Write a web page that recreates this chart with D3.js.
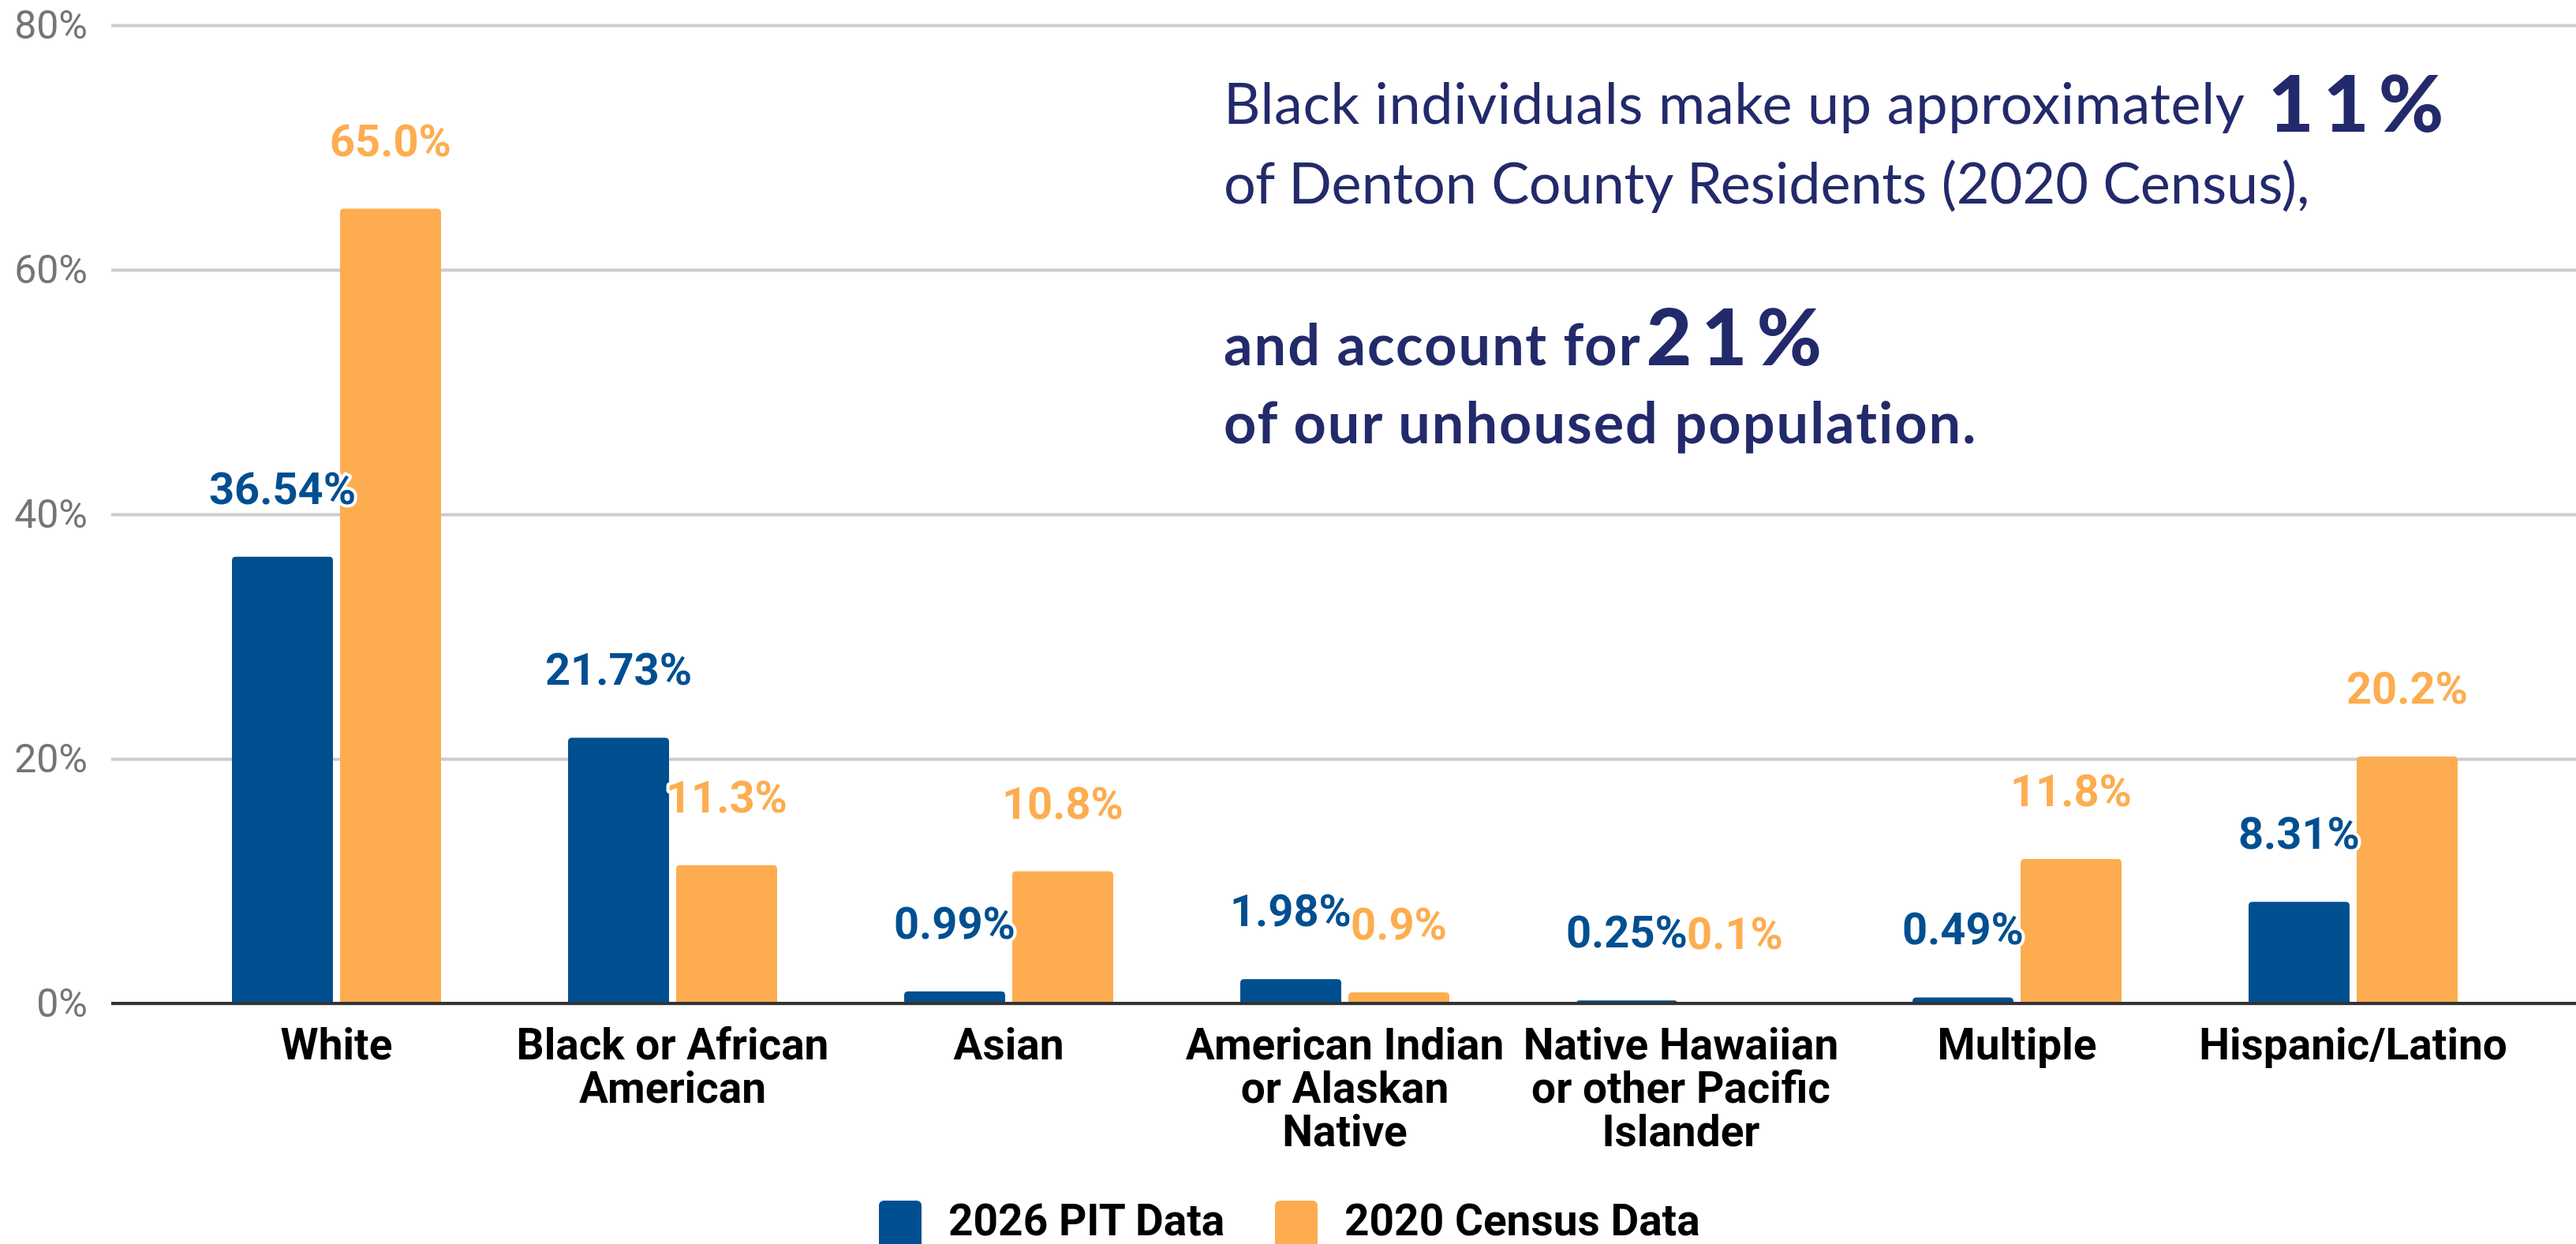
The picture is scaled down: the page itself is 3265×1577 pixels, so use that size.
<!DOCTYPE html>
<html>
<head>
<meta charset="utf-8">
<script src="https://cdn.jsdelivr.net/npm/d3@7"></script>
<style>
  body { margin: 0; background: #fff; }
  svg { display: block; }
</style>
</head>
<body>
<script>
// Chart data
const categories = [
  'White',
  'Black or African American',
  'Asian',
  'American Indian or Alaskan Native',
  'Native Hawaiian or other Pacific Islander',
  'Multiple',
  'Hispanic/Latino',
];
const categoryLines = [
  ['White'],
  ['Black or African', 'American'],
  ['Asian'],
  ['American Indian', 'or Alaskan', 'Native'],
  ['Native Hawaiian', 'or other Pacific', 'Islander'],
  ['Multiple'],
  ['Hispanic/Latino'],
];
const seriesNames = ['2026 PIT Data', '2020 Census Data'];
const pitValues = [36.54, 21.73, 0.99, 1.98, 0.25, 0.49, 8.31];
const censusValues = [65.0, 11.3, 10.8, 0.9, 0.1, 11.8, 20.2];
const yTicks = [0, 20, 40, 60, 80];

const colors = ['#004f90', '#fdad50'];
const labelFormats = [d3.format('.2f'), d3.format('.1f')];
const navy = '#232a6b';

// Creating the canvas
const width = 3265;
const height = 1577;
const plotLeft = 141;

const svg = d3
  .select('body')
  .append('svg')
  .attr('width', width)
  .attr('height', height);

// Scales
const y = d3.scaleLinear().domain([0, 80]).range([1272, 32]);

const x0 = d3
  .scaleBand()
  .domain(categories)
  .range([213.5, 3195.5])
  .paddingInner(0.378)
  .paddingOuter(0.189);

const x1 = d3
  .scaleBand()
  .domain(seriesNames)
  .range([0, x0.bandwidth()])
  .paddingInner(0.066);

const color = d3.scaleOrdinal().domain(seriesNames).range(colors);

// Gridlines and y labels
const yAxis = svg
  .append('g')
  .attr('transform', `translate(${plotLeft},0)`)
  .call(
    d3
      .axisLeft(y)
      .tickValues(yTicks)
      .tickSize(-(width - plotLeft))
      .tickPadding(30)
      .tickFormat((d) => `${d}%`)
  );
yAxis.select('.domain').remove();
yAxis.selectAll('line').attr('stroke', '#cccccc').attr('stroke-width', 4);
yAxis
  .selectAll('text')
  .attr('fill', '#757575')
  .style('font-family', 'Roboto, sans-serif')
  .style('font-size', '50px');

// Bars
const rows = categories.map((c, i) => ({
  category: c,
  values: [
    { key: seriesNames[0], value: pitValues[i], fmt: labelFormats[0] },
    { key: seriesNames[1], value: censusValues[i], fmt: labelFormats[1] },
  ],
}));

const topRounded = (x, yTop, w, h, r) => {
  r = Math.min(r, h, w / 2);
  return `M${x},${yTop + h}V${yTop + r}Q${x},${yTop} ${x + r},${yTop}H${x + w - r}Q${x + w},${yTop} ${x + w},${yTop + r}V${yTop + h}Z`;
};

const groups = svg
  .append('g')
  .selectAll('g')
  .data(rows)
  .enter()
  .append('g')
  .attr('transform', (d) => `translate(${x0(d.category)},0)`);

groups
  .selectAll('path')
  .data((d) => d.values)
  .enter()
  .append('path')
  .attr('fill', (d) => color(d.key))
  .attr('d', (d) =>
    topRounded(x1(d.key), y(d.value), x1.bandwidth(), y(0) - y(d.value), 5)
  );

// Zero line
svg
  .append('line')
  .attr('x1', plotLeft)
  .attr('x2', width)
  .attr('y1', y(0))
  .attr('y2', y(0))
  .attr('stroke', '#333333')
  .attr('stroke-width', 4);

// Value labels
groups
  .selectAll('text')
  .data((d) => d.values)
  .enter()
  .append('text')
  .attr('x', (d) => x1(d.key) + x1.bandwidth() / 2)
  .attr('y', (d) => y(d.value) - 67)
  .attr('text-anchor', 'middle')
  .attr('fill', (d) => color(d.key))
  .attr('stroke', '#fff')
  .attr('stroke-width', 8)
  .attr('stroke-linejoin', 'round')
  .attr('paint-order', 'stroke')
  .style('font-family', 'Roboto, sans-serif')
  .style('font-weight', 700)
  .style('font-size', '56px')
  .text((d) => `${d.fmt(d.value)}%`);

// Category labels
const xAxis = svg
  .append('g')
  .attr('transform', `translate(0,${y(0)})`)
  .call(d3.axisBottom(x0).tickSize(0).tickFormat(''));
xAxis.select('.domain').remove();
xAxis
  .selectAll('.tick text')
  .attr('y', 0)
  .attr('dy', 0)
  .attr('fill', '#000')
  .style('font-family', 'Roboto, sans-serif')
  .style('font-weight', 700)
  .style('font-size', '55px')
  .each(function (d, i) {
    d3.select(this)
      .selectAll('tspan')
      .data(categoryLines[i])
      .enter()
      .append('tspan')
      .attr('x', 0)
      .attr('y', (t, j) => 71 + j * 55)
      .text((t) => t);
  });

// Legend
const legendX = [1114, 1616];
const legend = svg
  .append('g')
  .selectAll('g')
  .data(seriesNames)
  .enter()
  .append('g')
  .attr('transform', (d, i) => `translate(${legendX[i]},1522)`);
legend
  .append('rect')
  .attr('width', 54)
  .attr('height', 70)
  .attr('rx', 6)
  .attr('fill', (d) => color(d));
legend
  .append('text')
  .attr('x', 88)
  .attr('y', 44)
  .attr('fill', '#000')
  .style('font-family', 'Roboto, sans-serif')
  .style('font-weight', 700)
  .style('font-size', '55px')
  .text((d) => d);

// Annotation
const note = svg
  .append('g')
  .attr('fill', navy)
  .style('font-family', 'Lato, sans-serif');

const line1 = note
  .append('text')
  .attr('x', 1551)
  .attr('y', 157)
  .style('font-size', '72px')
  .style('letter-spacing', '0.6px');
line1.append('tspan').text('Black individuals make up approximately ');
line1
  .append('tspan')
  .attr('dx', 12)
  .attr('dy', 10)
  .style('font-size', '100px')
  .style('font-weight', 900)
  .style('letter-spacing', '12px')
  .text('11%');

note
  .append('text')
  .attr('x', 1551)
  .attr('y', 258)
  .style('font-size', '72px')
  .text('of Denton County Residents (2020 Census),');

const line3 = note
  .append('text')
  .attr('x', 1551)
  .attr('y', 463)
  .style('font-size', '72px')
  .style('font-weight', 700)
  .style('letter-spacing', '2px');
line3.append('tspan').text('and account for');
line3
  .append('tspan')
  .attr('dx', 6)
  .style('font-size', '100px')
  .style('font-weight', 900)
  .style('letter-spacing', '12px')
  .text('21%');

note
  .append('text')
  .attr('x', 1551)
  .attr('y', 562)
  .style('font-size', '72px')
  .style('font-weight', 700)
  .style('letter-spacing', '2px')
  .text('of our unhoused population.');
</script>
</body>
</html>
